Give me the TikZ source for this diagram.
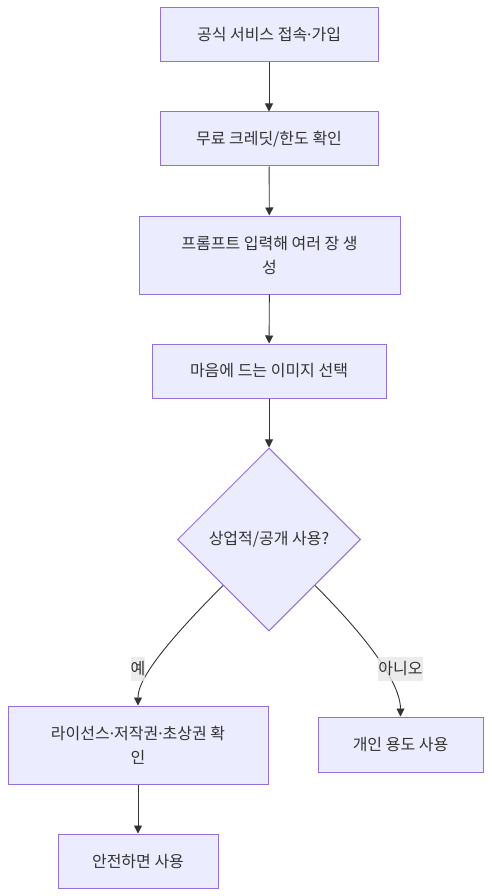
\documentclass[tikz,border=0pt]{standalone}
\usepackage{fontspec}
\setmainfont{Noto Sans CJK KR}
\newfontfamily\latinf{Noto Sans}
\newcommand{\mdot}{{\latinf ·}}
\usetikzlibrary{arrows.meta,shapes.geometric,calc}
\definecolor{nodefill}{HTML}{ECECFF}
\definecolor{nodestroke}{HTML}{9370DB}
\definecolor{edgecol}{HTML}{333333}
\definecolor{txt}{HTML}{333333}
\definecolor{lblbg}{HTML}{E8E8E8}
\begin{document}
\begin{tikzpicture}[x=1pt,y=-1pt,
  box/.style={draw=nodestroke,fill=nodefill,line width=1pt,inner sep=0pt,text=txt,
    font=\fontsize{16}{24}\selectfont,align=center},
  dia/.style={diamond,draw=nodestroke,fill=nodefill,line width=1pt,inner sep=0pt,text=txt,
    font=\fontsize{16}{24}\selectfont,minimum width=183pt,minimum height=183pt},
  edge/.style={draw=edgecol,line width=0.9pt,-{Triangle[length=8pt,width=8pt]}},
  lbl/.style={fill=lblbg,fill opacity=0.8,text opacity=1,text=txt,inner xsep=0pt,inner ysep=0pt,
    minimum height=24pt,font=\fontsize{16}{24}\selectfont}]
\fill[white] (0,0) rectangle (491,896);
\useasboundingbox (0,0) rectangle (491,896);
\node[box,minimum width=218pt,minimum height=54pt] (a) at (269,35) {공식 서비스 접속\mdot 가입};
\node[box,minimum width=218pt,minimum height=54pt] (b) at (269,139) {무료 크레딧/한도 확인};
\node[box,minimum width=261pt,minimum height=78pt] (c) at (269.5,255) {프롬프트 입력해 여러 장 생\\성};
\node[box,minimum width=234pt,minimum height=54pt] (d) at (269,371) {마음에 드는 이미지 선택};
\node[dia] (e) at (269,539.5) {상업적/공개 사용?};
\node[box,minimum width=260pt,minimum height=78pt] (f) at (138,745) {라이선스\mdot 저작권\mdot 초상권 확\\인};
\node[box,minimum width=165pt,minimum height=55pt] (g) at (400.5,744.5) {개인 용도 사용};
\node[box,minimum width=160pt,minimum height=54pt] (h) at (138,861) {안전하면 사용};
\draw[edge] (a) -- (b);
\draw[edge] (b) -- (c);
\draw[edge] (c) -- (d);
\draw[edge] (d) -- (e);
\draw[edge] ($(e.west)!0.5!(e.south)$) .. controls +(-75,75) and +(0,-20) .. (f.north);
\draw[edge] ($(e.east)!0.5!(e.south)$) .. controls +(70,70) and +(0,-25) .. (g.north);
\draw[edge] (f) -- (h);
\node[lbl] (ly) at (138,669) {예};
\node[lbl] (ln) at (400.5,669) {아니오};
\end{tikzpicture}
\end{document}
